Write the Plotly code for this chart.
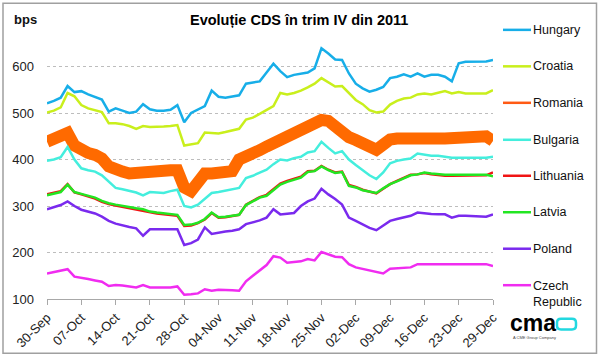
import plotly.graph_objects as go

day_index = list(range(66))
tick_pos = list(range(0, 66, 5))
tick_labels = ["30-Sep", "07-Oct", "14-Oct", "21-Oct", "28-Oct", "04-Nov", "11-Nov",
               "18-Nov", "25-Nov", "02-Dec", "09-Dec", "16-Dec", "23-Dec", "29-Dec"]
y_ticks = [100, 200, 300, 400, 500, 600, 700]

hungary = [521, 526, 533, 558, 545, 547, 540, 535, 529, 503, 510, 505, 500, 503, 519, 508,
           505, 505, 507, 517, 480, 500, 508, 515, 548, 535, 533, 535, 538, 563, 565, 568,
           587, 606, 590, 577, 582, 584, 587, 596, 639, 628, 615, 614, 585, 563, 553, 546,
           550, 556, 575, 578, 583, 578, 585, 578, 582, 582, 578, 568, 607, 610, 610, 610,
           611, 614]
croatia = [501, 505, 512, 543, 536, 517, 510, 506, 502, 478, 478, 476, 472, 466, 472, 470,
           470, 471, 472, 474, 430, 432, 435, 458, 457, 456, 459, 463, 466, 486, 490, 498,
           507, 515, 543, 540, 543, 548, 555, 563, 575, 566, 557, 558, 544, 528, 519, 506,
           501, 503, 518, 526, 531, 533, 540, 542, 540, 543, 547, 542, 545, 542, 542, 542,
           542, 549]
romania = [438, 443, 448, 457, 430, 418, 414, 410, 402, 385, 377, 374, 370, 372, 370, 377,
           377, 377, 377, 377, 340, 332, 350, 370, 370, 371, 372, 375, 400, 405, 410, 420,
           428, 435, 442, 450, 460, 466, 472, 478, 485, 483, 470, 460, 448, 442, 436, 430,
           421, 432, 443, 445, 446, 444, 446, 447, 446, 445, 445, 445, 445, 445, 445, 446,
           450, 440]
bulgaria = [397, 400, 405, 427, 400, 381, 377, 374, 366, 352, 339, 336, 333, 329, 323, 330,
            329, 328, 332, 335, 300, 297, 303, 315, 328, 330, 333, 336, 339, 360, 365, 372,
            378, 390, 400, 398, 403, 406, 415, 418, 438, 425, 413, 418, 400, 388, 376, 366,
            358, 372, 392, 397, 400, 402, 413, 410, 408, 408, 406, 404, 404, 404, 404, 404,
            404, 406]
lithuania = [325, 328, 332, 347, 329, 325, 320, 316, 309, 304, 301, 298, 296, 292, 290, 286,
             284, 282, 280, 279, 257, 258, 263, 271, 285, 275, 276, 278, 281, 303, 311, 319,
             324, 337, 348, 354, 358, 363, 375, 376, 386, 378, 372, 374, 345, 341, 335, 331,
             327, 337, 347, 354, 361, 367, 368, 371, 368, 366, 365, 365, 365, 365, 365, 365,
             366, 372]
latvia = [323, 326, 330, 346, 330, 326, 322, 318, 311, 306, 303, 300, 298, 295, 293, 288,
          286, 284, 282, 281, 259, 260, 264, 272, 286, 276, 277, 279, 281, 302, 310, 318,
          322, 335, 346, 352, 356, 361, 373, 375, 385, 377, 371, 373, 343, 340, 334, 331,
          328, 338, 347, 353, 360, 366, 368, 372, 370, 368, 367, 367, 367, 367, 367, 367,
          367, 364]
poland = [293, 297, 302, 310, 300, 292, 288, 284, 277, 268, 262, 258, 255, 252, 236, 250,
          250, 250, 250, 250, 216, 220, 228, 254, 240, 243, 245, 247, 250, 261, 265, 269,
          275, 293, 282, 283, 285, 300, 310, 316, 337, 325, 315, 303, 275, 268, 260, 253,
          248, 258, 268, 272, 276, 279, 286, 284, 283, 282, 282, 275, 279, 279, 278, 278,
          277, 282]
czech = [155, 158, 162, 164, 148, 146, 143, 140, 137, 128, 130, 129, 127, 125, 130, 125,
         125, 125, 125, 127, 109, 110, 112, 121, 118, 120, 120, 119, 118, 138, 150, 162,
         173, 192, 189, 178, 180, 181, 186, 183, 201, 196, 191, 190, 175, 168, 165, 161,
         158, 155, 165, 166, 167, 168, 175, 175, 175, 175, 175, 175, 175, 175, 175, 175,
         175, 171]

series_names = ["Hungary", "Croatia", "Romania", "Bulgaria", "Lithuania", "Latvia",
                "Poland", "Czech<br>Republic"]
series_values = [hungary, croatia, romania, bulgaria, lithuania, latvia, poland, czech]
series_colors = ["#17AEE8", "#C9EF1C", "#FF6A00", "#44EEDD", "#F01414", "#22E622",
                 "#7A2AEE", "#F02CF0"]
series_widths = [2.5, 2.5, 12, 2.5, 2.5, 2.5, 2.5, 2.5]
legend_colors = ["#17AEE8", "#C9EF1C", "#FF5A14", "#44EEDD", "#F01414", "#22E622",
                 "#7A2AEE", "#F02CF0"]

W, H = 600, 362
L, R, T, B = 47, 107, 20, 59
PW, PH = W - L - R, H - T - B


def px(x):
    return (x - L) / PW


def py(y):
    return (H - B - y) / PH


fig = go.Figure()
for name, vals, col, w in zip(series_names, series_values, series_colors, series_widths):
    fig.add_trace(go.Scatter(x=day_index, y=vals, mode="lines", name=name,
                             line=dict(color=col, width=w), showlegend=False,
                             hoverinfo="skip"))

shapes = []
annotations = []
FONT = "Liberation Sans, Arial"
legend_y = [30, 67, 104, 141.5, 178, 215, 252, 289]
for name, col, ly in zip(series_names, legend_colors, legend_y):
    shapes.append(dict(type="line", xref="paper", yref="paper",
                       x0=px(503), x1=px(531), y0=py(ly), y1=py(ly),
                       line=dict(color=col, width=2.5)))
    if "<br>" in name:
        annotations.append(dict(text=name, xref="paper", yref="paper", x=px(531),
                                y=py(ly - 8), xanchor="left", yanchor="top",
                                showarrow=False, align="left",
                                font=dict(family=FONT, size=12.5, color="#111")))
    else:
        annotations.append(dict(text=name, xref="paper", yref="paper", x=px(531),
                                y=py(ly), xanchor="left", yanchor="middle",
                                showarrow=False,
                                font=dict(family=FONT, size=12.5, color="#111")))

# title
annotations.append(dict(text="<b>Evoluție CDS în trim IV din 2011</b>", xref="paper",
                        yref="paper", x=px(299), y=py(20), xanchor="center",
                        yanchor="middle", showarrow=False,
                        font=dict(family=FONT, size=14.5, color="#000")))
# unit label
annotations.append(dict(text="<b>bps</b>", xref="paper", yref="paper", x=px(39),
                        y=py(19), xanchor="right", yanchor="middle", showarrow=False,
                        font=dict(family=FONT, size=13, color="#111")))
# logo
annotations.append(dict(text="<b>cma</b>", xref="paper", yref="paper", x=px(533),
                        y=py(327), xanchor="center", yanchor="middle", showarrow=False,
                        font=dict(family=FONT, size=23, color="#000")))
annotations.append(dict(text="A CME Group Company", xref="paper", yref="paper", x=px(511),
                        y=py(342), xanchor="left", yanchor="middle", showarrow=False,
                        font=dict(family=FONT, size=4, color="#444")))

# rounded cyan rectangle of logo
x0, x1, y0, y1, r = px(557), px(576), py(323), py(334), 4
rx, ry = r / PW, r / PH
path = (f"M {x0+rx},{y0} L {x1-rx},{y0} Q {x1},{y0} {x1},{y0-ry} "
        f"L {x1},{y1+ry} Q {x1},{y1} {x1-rx},{y1} L {x0+rx},{y1} "
        f"Q {x0},{y1} {x0},{y1+ry} L {x0},{y0-ry} Q {x0},{y0} {x0+rx},{y0} Z")
shapes.append(dict(type="path", xref="paper", yref="paper", path=path,
                   line=dict(color="#22D8E0", width=2.5)))

# outer border
shapes.append(dict(type="rect", xref="paper", yref="paper", x0=px(3), x1=px(596.5),
                   y0=py(3), y1=py(358), line=dict(color="#A0A0A0", width=1.5),
                   layer="below"))

fig.update_layout(
    width=W, height=H, margin=dict(l=L, r=R, t=T, b=B),
    paper_bgcolor="white", plot_bgcolor="white",
    shapes=shapes, annotations=annotations,
    xaxis=dict(range=[0, 65], tickvals=tick_pos, ticktext=tick_labels, tickangle=-45,
               showgrid=False, zeroline=False, showline=True, linecolor="#A8A8A8",
               linewidth=1, ticks="outside", ticklen=5, tickcolor="#A8A8A8",
               tickfont=dict(family=FONT, size=13, color="#222")),
    yaxis=dict(range=[100, 700], tickvals=y_ticks,
               ticktext=["100", "200", "300", "400", "500", "600", ""],
               showgrid=True, gridcolor="#BDBDBD", griddash="dot", gridwidth=1,
               zeroline=False, showline=False, ticks="", ticklabelstandoff=12,
               tickfont=dict(family=FONT, size=13, color="#222")),
    showlegend=False,
)

fig.write_html("out.html", config={"displayModeBar": False},
               post_script="document.body.style.margin='0';document.body.style.padding='0';")
